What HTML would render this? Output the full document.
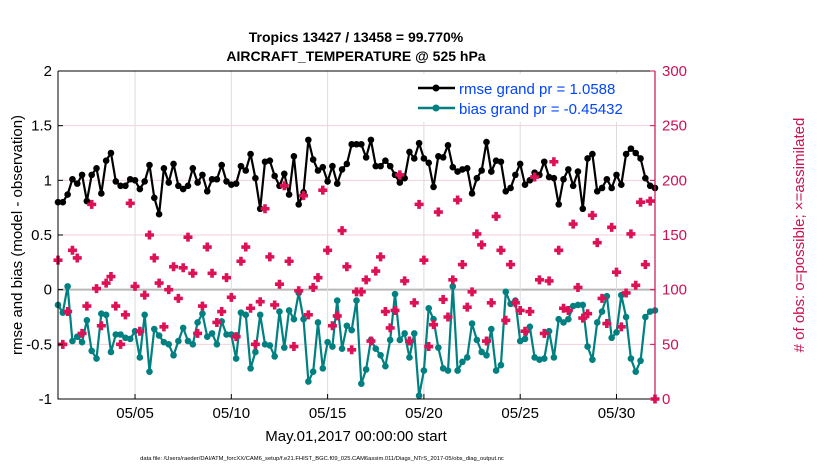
<!DOCTYPE html>
<html><head><meta charset="utf-8">
<style>
body{margin:0;background:#fff;}
svg{display:block;font-family:"Liberation Sans",Arial,sans-serif;}
</style></head>
<body>
<svg id="chart" width="830" height="470" viewBox="0 0 830 470">
  <text x="356" y="42" text-anchor="middle" font-size="14" font-weight="bold">Tropics 13427 / 13458 = 99.770%</text>
  <text x="356" y="61" text-anchor="middle" font-size="14" font-weight="bold">AIRCRAFT_TEMPERATURE @ 525 hPa</text>
  <g id="grid"></g>
  <g id="series"></g>
  <g id="axes"></g>
  <text transform="translate(22,235) rotate(-90)" text-anchor="middle" font-size="15">rmse and bias (model - observation)</text>
  <text transform="translate(804,235) rotate(-90)" text-anchor="middle" font-size="15" fill="#cc1155"># of obs: o=possible; ×=assimilated</text>
  <text x="356" y="441" text-anchor="middle" font-size="15">May.01,2017 00:00:00 start</text>
  <text x="322" y="460" text-anchor="middle" font-size="5.8">data file: /Users/raeder/DAI/ATM_forcXX/CAM6_setup/f.e21.FHIST_BGC.f09_025.CAM6assim.011/Diags_NTrS_2017-05/obs_diag_output.nc</text>
  <g>
    <rect x="412" y="74" width="240" height="48" fill="#fff"/>
    <line x1="418" y1="88" x2="455" y2="88" stroke="#000" stroke-width="2.5"/>
    <circle cx="436" cy="88" r="3.5" fill="#000"/>
    <text x="459" y="94" font-size="15" fill="#0044ff">rmse grand pr = 1.0588</text>
    <line x1="418" y1="108" x2="455" y2="108" stroke="#008080" stroke-width="2.5"/>
    <circle cx="436" cy="108" r="3.5" fill="#008080"/>
    <text x="459" y="114" font-size="15" fill="#0044ff">bias grand pr = -0.45432</text>
  </g>
</svg>
<script>
const rmse=[0.80,0.80,0.87,1.01,0.97,1.05,0.81,1.05,1.11,0.88,1.18,1.25,0.99,0.95,0.95,1.01,1.00,0.92,0.99,1.14,0.84,0.69,1.11,0.98,1.15,0.95,0.92,0.95,1.11,0.98,1.05,0.90,
1.01,1.01,1.14,0.99,0.96,0.97,1.13,1.09,1.24,1.02,0.74,1.17,1.18,1.04,0.95,1.06,0.87,1.22,0.78,0.89,1.37,1.19,1.09,1.12,0.99,1.13,0.97,1.10,1.15,1.33,1.33,
1.33,1.21,1.37,1.13,1.13,1.18,1.13,1.05,0.98,1.02,1.26,1.20,1.34,1.20,1.16,0.94,1.22,1.21,1.32,1.12,1.08,1.10,1.11,0.88,1.02,1.09,1.35,1.08,1.18,1.17,0.90,
0.93,1.05,1.15,0.96,1.00,1.07,1.05,1.17,1.03,1.02,0.78,1.01,1.10,0.95,1.08,0.74,1.20,1.24,0.90,0.93,1.01,0.93,1.05,0.96,1.24,1.29,1.25,1.20,1.02,0.95,0.93];
const bias=[-0.14,-0.21,0.03,-0.47,-0.43,-0.48,-0.28,-0.56,-0.63,-0.22,-0.23,-0.57,-0.41,-0.41,-0.44,-0.45,-0.38,-0.62,-0.23,-0.75,-0.36,-0.42,-0.48,-0.50,-0.60,-0.47,-0.35,-0.47,-0.50,-0.30,-0.22,-0.43,
-0.40,-0.50,-0.29,-0.41,-0.41,-0.63,-0.21,-0.23,-0.72,-0.57,-0.23,-0.50,-0.51,-0.61,-0.20,-0.53,-0.19,-0.27,-0.03,-0.27,-0.84,-0.75,-0.30,-0.72,-0.48,-0.52,-0.10,-0.54,-0.33,-0.37,-0.10,
-0.86,-0.73,-0.46,-0.54,-0.60,-0.70,-0.46,-0.04,-0.46,-0.40,-0.62,-0.40,-0.97,-0.74,-0.17,-0.27,-0.53,-0.72,-0.74,0.03,-0.74,-0.66,-0.62,-0.31,-0.46,-0.57,-0.60,-0.36,-0.74,-0.69,-0.02,
-0.13,-0.10,-0.47,-0.45,-0.34,-0.62,-0.64,-0.63,-0.38,-0.62,-0.27,-0.30,-0.27,-0.15,-0.14,-0.14,-0.52,-0.64,-0.30,-0.20,-0.06,-0.44,-0.39,-0.05,-0.25,-0.63,-0.75,-0.65,-0.25,-0.20,-0.19];
const nobs=[127,50,80,136,129,60,85,178,101,67,106,112,85,50,77,179,103,62,95,150,129,106,66,100,121,92,120,148,115,60,85,139,
115,70,80,111,93,57,126,139,83,50,89,174,130,86,105,195,126,48,99,186,77,102,111,191,136,67,76,154,121,45,98,
98,109,53,117,130,80,65,81,205,108,53,88,178,127,48,68,171,91,75,109,182,123,84,98,151,141,53,88,167,136,72,
123,88,81,62,80,203,109,60,108,217,136,83,81,160,102,74,78,168,143,92,69,157,116,66,97,151,104,180,123,181,0];
const leftTicks=[-1,-0.5,0,0.5,1,1.5,2];
const leftTickLabels=["-1","-0.5","0","0.5","1","1.5","2"];
const rightTicks=[0,50,100,150,200,250,300];
const dateTicks=[4,9,14,19,24,29];
const dateLabels=["05/05","05/10","05/15","05/20","05/25","05/30"];
const stepDays=0.25;

const X0=58,X1=655,Y0=71,Y1=399;
const xs=d=>X0+(d/31)*(X1-X0);
const yl=v=>Y1-(v+1)/3*(Y1-Y0);
const yr=c=>Y1-c/300*(Y1-Y0);
const NS="http://www.w3.org/2000/svg";
function mk(tag,attrs,parent){const e=document.createElementNS(NS,tag);for(const k in attrs)e.setAttribute(k,attrs[k]);parent.appendChild(e);return e;}
const grid=document.getElementById('grid'),ser=document.getElementById('series'),ax=document.getElementById('axes');

mk('rect',{x:X0,y:Y0,width:X1-X0,height:Y1-Y0,fill:'#fff'},grid);
leftTicks.forEach(v=>{
  const l=mk('line',{x1:X0,x2:X1,y1:yl(v),y2:yl(v),stroke:v===0?'#b8b8b8':'#f5cfdc','stroke-width':v===0?2:1},grid);
  
  
});
dateTicks.forEach(d=>{
  const l=mk('line',{x1:xs(d),x2:xs(d),y1:Y0,y2:Y1,stroke:'#dcdcdc','stroke-width':1},grid);
  
  
});

function line(vals,color,name){
  const pts=vals.map((v,i)=>xs(i*stepDays).toFixed(1)+','+yl(v).toFixed(1)).join(' ');
  const p=mk('polyline',{points:pts,fill:'none',stroke:color,'stroke-width':2.2},ser);
  
  
  vals.forEach((v,i)=>{
    const c=mk('circle',{cx:xs(i*stepDays),cy:yl(v),r:3.3,fill:color},ser);
    
    
  });
}
line(bias,'#008080','bias');
line(rmse,'#000000','rmse');
nobs.forEach((c,i)=>{
  const x=xs(i*stepDays),y=yr(c),s=4.5;
  const p=mk('path',{d:`M${x-1.8},${y-s}h3.6v${s-1.8}h${s-1.8}v3.6h-${s-1.8}v${s-1.8}h-3.6v-${s-1.8}h-${s-1.8}v-3.6h${s-1.8}z`,fill:'#dd1155'},ser);
  
  
});

mk('path',{d:`M${X0},${Y0}H${X1}M${X0},${Y0}V${Y1}H${X1}`,stroke:'#000',fill:'none','stroke-width':1},ax);
mk('line',{x1:X1,x2:X1,y1:Y0,y2:Y1,stroke:'#cc1155','stroke-width':1.2},ax);
leftTicks.forEach((v,i)=>{
  mk('line',{x1:X0,x2:X0+5,y1:yl(v),y2:yl(v),stroke:'#000'},ax);
  const t=mk('text',{x:X0-6,y:yl(v)+5,'text-anchor':'end','font-size':15},ax);
  t.textContent=leftTickLabels[i];
  
  
});
rightTicks.forEach(c=>{
  mk('line',{x1:X1-5,x2:X1,y1:yr(c),y2:yr(c),stroke:'#cc1155'},ax);
  const t=mk('text',{x:X1+7,y:yr(c)+5,'font-size':15,fill:'#cc1155'},ax);
  t.textContent=String(c);
  
  
});
dateTicks.forEach((d,i)=>{
  mk('line',{x1:xs(d),x2:xs(d),y1:Y1,y2:Y1-5,stroke:'#000'},ax);
  const t=mk('text',{x:xs(d),y:418,'text-anchor':'middle','font-size':15},ax);
  t.textContent=dateLabels[i];
  
  
});
</script>
</body></html>
